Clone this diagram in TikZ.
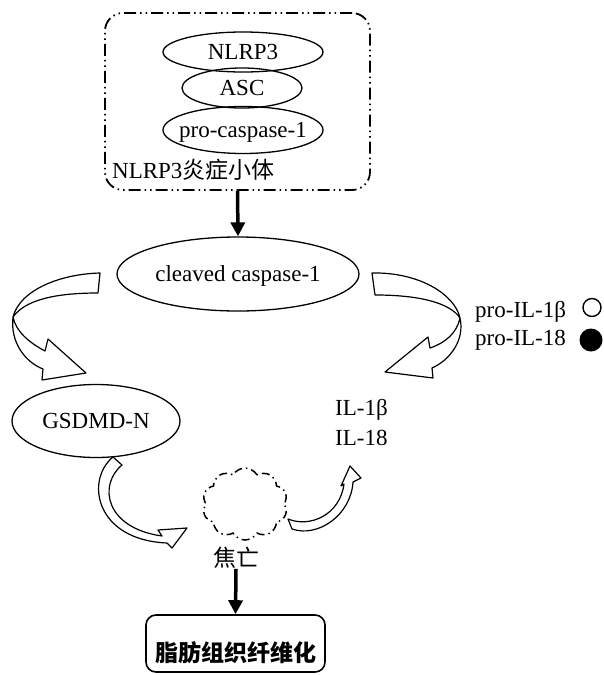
\documentclass[tikz,border=0pt]{standalone}
\usepackage{fontspec}
\setmainfont{Liberation Serif}
\newfontfamily\cjk{Noto Sans CJK SC}
\usetikzlibrary{shapes.geometric,shapes.symbols,arrows.meta}

\begin{document}
\begin{tikzpicture}[x=1pt,y=-1pt,
  every node/.style={font=\fontsize{23pt}{27pt}\selectfont, inner sep=0pt},
  oval/.style={draw, ellipse, line width=1.3pt, text height=16pt, text depth=2pt},
  blockarrow/.style={draw, line width=1.2pt, fill=white, line join=round},
  thickarrow/.style={line width=3.5pt, -{Triangle[length=14pt,width=14pt]}},
  ddbox/.style={draw, rounded corners=18pt, line width=1.8pt,
    dash pattern=on 12pt off 4pt on 1.5pt off 4pt on 1.5pt off 4pt},
  finalbox/.style={draw, rounded corners=10pt, line width=1.6pt,
    minimum width=179pt, text height=42.7pt, text depth=6.3pt, inner ysep=4pt,
    anchor=base, font={\cjk\bfseries\fontsize{23pt}{27pt}\selectfont}},
  cjktext/.style={font={\cjk\fontsize{23pt}{27pt}\selectfont}},
]
\useasboundingbox (0,0) rectangle (603,675);

% inflammasome box
\node[ddbox, minimum width=265pt, minimum height=177pt] (inflam) at (237.5,101.5) {};
\node[oval, minimum width=160pt, minimum height=40pt] (nlrp3) at (243,52) {\makebox[0pt]{NLRP3}};
\node[oval, minimum width=120pt, minimum height=40pt] (asc) at (242,88) {\makebox[0pt]{ASC}};
\node[oval, minimum width=160pt, minimum height=47pt] (procasp) at (243,130) {\makebox[0pt]{pro-caspase-1}};
\node[anchor=west] (inflamlabel) at (112,170) {NLRP3{\cjk 炎症小体}};

% cleaved caspase-1
\node[oval, minimum width=242pt, minimum height=74pt] (cleaved) at (238,274) {\makebox[0pt]{cleaved caspase-1}};
\draw[thickarrow] (inflam.south) -- (cleaved.north);

% GSDMD-N
\node[oval, minimum width=168pt, minimum height=73pt] (gsdmd) at (96,421) {\makebox[0pt]{GSDMD-N}};

% IL labels
\node[anchor=west] (il1b) at (335,410) {IL-1β};
\node[anchor=west] (il18) at (335,438) {IL-18};
\node[anchor=west] (proil1b) at (475,312) {pro-IL-1β};
\node[anchor=west] (proil18) at (475,340) {pro-IL-18};
\node[draw, circle, line width=1.4pt, minimum size=18pt] (opencirc) at (592,307.5) {};
\node[fill=black, circle, minimum size=23pt] (fillcirc) at (591,340) {};

% left block arrow
\draw[blockarrow] (100,273) .. controls (60,274) and (20,290) .. (13,317)
  .. controls (10,342) and (25,362) .. (43,369)
  -- (42,380) -- (86,373) -- (48,339) -- (45,351)
  .. controls (30,343) and (16,332) .. (13,317)
  .. controls (25,300) and (55,293) .. (98,293) -- cycle;

% right block arrow
\draw[blockarrow] (372,273) .. controls (420,272) and (455,295) .. (460,318)
  .. controls (465,340) and (450,360) .. (432,368)
  -- (433,378) -- (385,372) -- (428,337) -- (430,348)
  .. controls (445,343) and (457,333) .. (460,318)
  .. controls (450,303) and (420,295) .. (375,295) -- cycle;

% cloud (pyroptosis)
\node[cloud, draw, cloud puffs=10, cloud puff arc=120, aspect=1.2,
  minimum width=85pt, minimum height=72pt, line width=1.5pt,
  dash pattern=on 8pt off 4pt on 1.5pt off 4pt] (cloud) at (245,504) {};

% small arrow GSDMD -> cloud
\draw[blockarrow] (113,457) .. controls (85,480) and (95,540) .. (167,543)
  -- (172,548) -- (187,528) -- (158,530) -- (162,536)
  .. controls (105,528) and (98,485) .. (122,465) -- cycle;

% small arrow cloud -> IL
\draw[blockarrow] (288,519) .. controls (310,528) and (340,515) .. (344,484)
  -- (341,486) -- (350,466) -- (361,478) -- (353,482)
  .. controls (351,515) and (318,538) .. (292,529) -- cycle;

% pyroptosis label and final box
\node[cjktext] (jiao) at (236,558) {焦亡};
\node[finalbox] (final) at (235.5,661.7) {脂肪组织纤维化};
\draw[thickarrow] (jiao.south) -- (final.north);
\end{tikzpicture}
\end{document}
